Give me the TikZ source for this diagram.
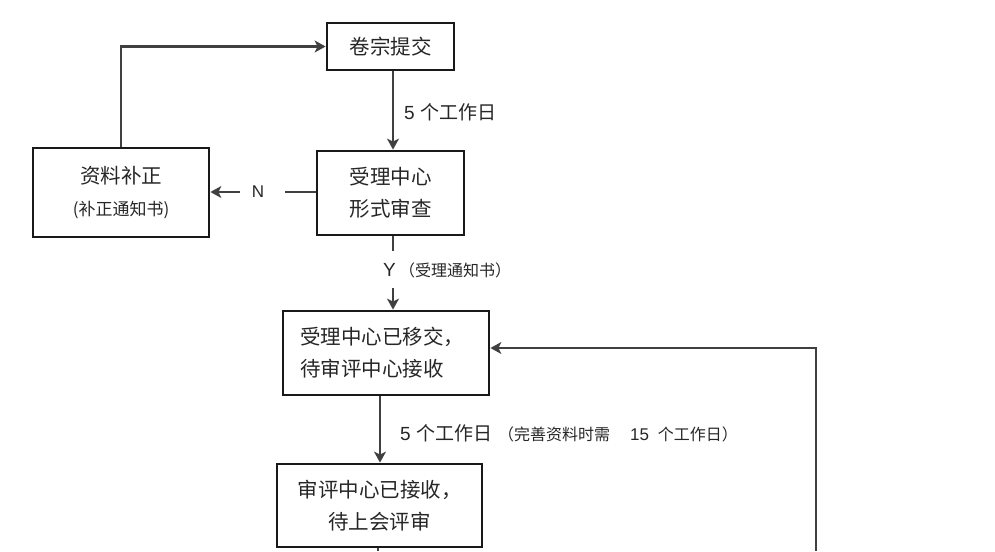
\documentclass[tikz,border=0pt]{standalone}
\usepackage{fontspec}
\setmainfont{Liberation Sans}
\newfontfamily\cjk{Noto Sans CJK SC}
\usetikzlibrary{arrows.meta}
\begin{document}
\begin{tikzpicture}[x=1pt,y=-1pt,
  box/.style={draw=black!90,line width=2.8pt,inner sep=0pt,font=\cjk\fontsize{20.5}{32}\selectfont,text=black!85,align=center},
  conn/.style={draw=black!75,line width=2.5pt},
  arr/.style={conn,-{Stealth[length=11pt,width=12pt,inset=3pt]}},
  lab/.style={inner sep=0pt,text=black!85,font=\fontsize{19}{19}\selectfont},
  small/.style={font=\cjk\fontsize{16}{16}\selectfont}]
\useasboundingbox (0,0) rectangle (995,551);
% boxes
\node[box,minimum width=127pt,minimum height=47pt] (b1) at (390.5,46.5) {卷宗提交};
\node[box,minimum width=147pt,minimum height=84pt] (b2) at (390.5,193) {受理中心\\形式审查};
\node[box,minimum width=176pt,minimum height=89pt] (b5) at (121,192.5) {资料补正\\{\fontsize{17}{17}\selectfont(补正通知书)}};
\node[box,minimum width=206pt,minimum height=84pt,text width=172pt,align=left] (b3) at (386,353) {受理中心已移交，\\待审评中心接收};
\node[box,minimum width=205pt,minimum height=83pt] (b4) at (379.5,505.5) {审评中心已接收，\\待上会评审};
% labels
\node[lab,anchor=west] (l1) at (404,112) {5 {\cjk 个工作日}};
\node[lab,font=\fontsize{17}{17}\selectfont] (ln) at (258,192) {N};
\node[lab,anchor=west] (ly) at (383,270) {Y\,{\cjk\fontsize{16}{16}\selectfont（受理通知书）}};
\node[lab,anchor=west] (l2) at (400,433) {5 {\cjk 个工作日}\hspace{6pt}{\cjk\fontsize{16}{16}\selectfont（完善资料时需}\hspace{20pt}{\fontsize{17}{17}\selectfont 15}\hspace{9pt}{\cjk\fontsize{16}{16}\selectfont 个工作日）}};
% helper coordinates
\coordinate (n1) at (285,192);
\coordinate (n2) at (240,192);
\coordinate (y1) at (393,251);
\coordinate (y2) at (393,288);
\coordinate (c34) at (380,0);
\coordinate (r1) at (816,551);
\coordinate (r2) at (816,348);
% connectors
\draw[arr] (b5.north) |- (b1.west);
\draw[arr] (b1.south -| y1) -- (b2.north -| y1);
\draw[conn] (b2.west |- n1) -- (n1);
\draw[arr] (n2) -- (b5.east |- n2);
\draw[conn] (b2.south -| y1) -- (y1);
\draw[arr] (y2) -- (b3.north -| y2);
\draw[arr] (b3.south -| c34) -- (b4.north -| c34);
\draw[arr] (r1) -- (r2) -- (r2 -| b3.east);
\draw[conn] (b4.south -| 378,0) -- (378,551);
\end{tikzpicture}
\end{document}
